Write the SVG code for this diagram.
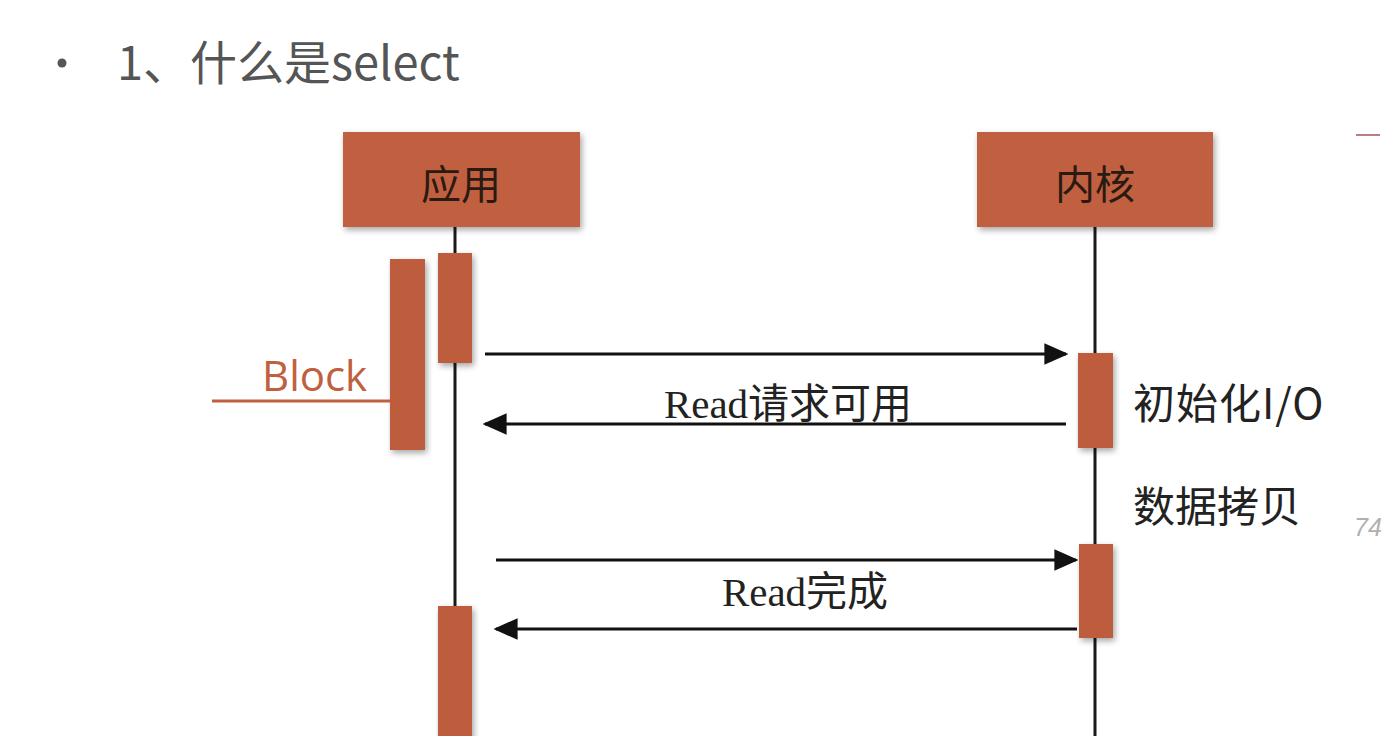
<svg xmlns="http://www.w3.org/2000/svg" width="1386" height="736" viewBox="0 0 1386 736">
  <defs>
    <style>
      .box { fill: #C0603F; }
      .bar { fill: #BE5D3C; }
      .boxlabel { font-family: "Noto Sans CJK SC", serif; font-size: 40px; fill: #2a1a12; text-anchor: middle; }
      .life { stroke: #1a1a1a; stroke-width: 3; fill: none; }
      .msg { stroke: #111; stroke-width: 3; fill: none; }
      .msglabel { font-family: "Liberation Serif", "Noto Sans CJK SC", serif; font-size: 41px; fill: #222; text-anchor: middle; }
      .note { font-family: "Noto Sans CJK SC", sans-serif; font-size: 42px; fill: #222; }
    </style>
    <filter id="shadow" x="-10%" y="-10%" width="130%" height="130%">
      <feGaussianBlur in="SourceAlpha" stdDeviation="3"/>
      <feOffset dx="2" dy="3" result="b"/>
      <feComponentTransfer><feFuncA type="linear" slope="0.35"/></feComponentTransfer>
      <feMerge><feMergeNode/><feMergeNode in="SourceGraphic"/></feMerge>
    </filter>
    <marker id="arrow" viewBox="0 0 10 10" refX="9" refY="5" markerWidth="8" markerHeight="8" markerUnits="strokeWidth" orient="auto">
      <path d="M0,0.5 L10,5 L0,9.5 Z" fill="#111"/>
    </marker>
  </defs>

  <rect width="1386" height="736" fill="#ffffff"/>

  <g id="title">
    <circle cx="62" cy="63" r="4.5" fill="#555"/>
    <text x="117" y="80" font-family="Noto Sans CJK SC, sans-serif" font-size="47" fill="#555">1、什么是select</text>
  </g>

  <g id="lifelines">
    <line class="life" x1="455" y1="227" x2="455" y2="736"/>
    <line class="life" x1="1095" y1="227" x2="1095" y2="736"/>
  </g>

  <g id="node-app">
    <rect class="box" x="343" y="132" width="237" height="95" filter="url(#shadow)"/>
    <text class="boxlabel" x="461" y="199">应用</text>
  </g>

  <g id="node-kernel">
    <rect class="box" x="977" y="132" width="236" height="95" filter="url(#shadow)"/>
    <text class="boxlabel" x="1095" y="199">内核</text>
  </g>

  <g id="activations">
    <rect class="bar" x="438" y="253" width="34" height="110" filter="url(#shadow)"/>
    <rect class="bar" x="390" y="259" width="35" height="191" filter="url(#shadow)"/>
    <rect class="bar" x="1078" y="353" width="35" height="95" filter="url(#shadow)"/>
    <rect class="bar" x="1079" y="544" width="34" height="94" filter="url(#shadow)"/>
    <rect class="bar" x="438" y="606" width="34" height="140" filter="url(#shadow)"/>
  </g>

  <g id="block-label">
    <line x1="212" y1="401" x2="390" y2="401" stroke="#C0603F" stroke-width="3"/>
    <text x="262" y="391" font-family="Open Sans, sans-serif" font-size="42" fill="#C0603F">Block</text>
  </g>

  <g id="connectors">
    <line class="msg" x1="485" y1="354" x2="1066" y2="354" marker-end="url(#arrow)"/>
    <line class="msg" x1="1066" y1="424" x2="485" y2="424" marker-end="url(#arrow)"/>
    <line class="msg" x1="496" y1="560" x2="1076" y2="560" marker-end="url(#arrow)"/>
    <line class="msg" x1="1077" y1="629" x2="496" y2="629" marker-end="url(#arrow)"/>
  </g>

  <g id="labels">
    <text class="msglabel" x="788" y="418">Read请求可用</text>
    <text class="msglabel" x="805" y="606">Read完成</text>
    <text class="note" x="1133" y="419" letter-spacing="1">初始化I/O</text>
    <text class="note" x="1133" y="522">数据拷贝</text>
  </g>

  <g id="edge-fragments">
    <line x1="1356" y1="135" x2="1380" y2="135" stroke="#b88080" stroke-width="2"/>
    <text x="1354" y="536" font-family="Liberation Sans, sans-serif" font-size="25" fill="#b0b0b0" font-style="italic">74</text>
  </g>
</svg>
